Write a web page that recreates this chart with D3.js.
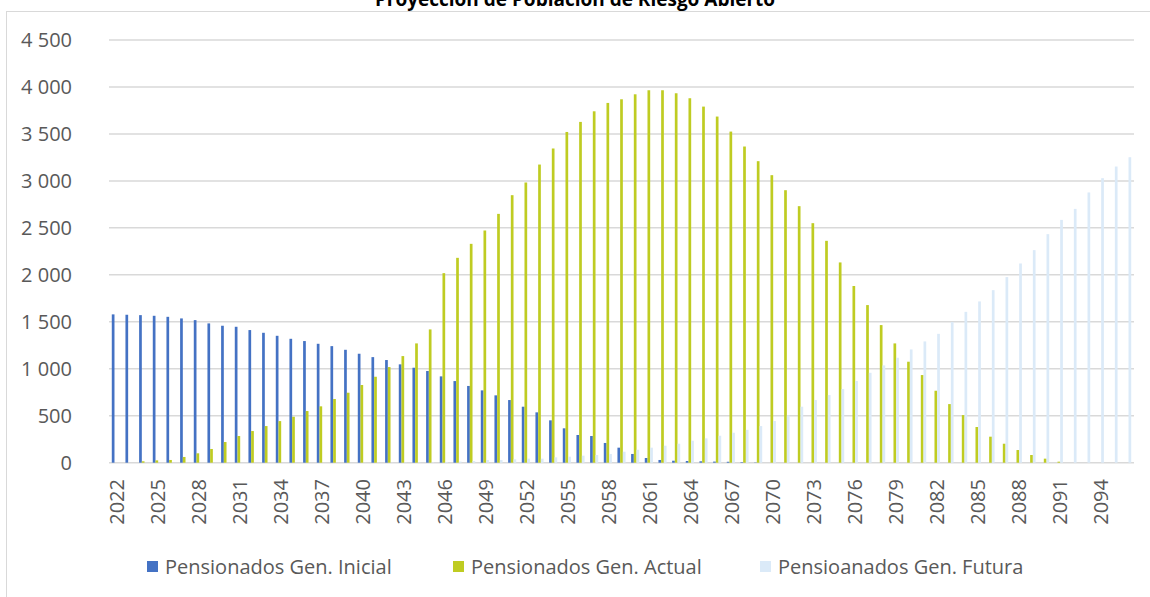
<!DOCTYPE html>
<head>
	<meta charset="utf-8">
	<title>Proyección de Población de Riesgo Abierto</title>
	<style>
	body { margin: 0; background: #fff; }
	.grid line { stroke: #d9d9d9; stroke-width: 1.5; }
	.tick-label { font: 20px "Open Sans", sans-serif; fill: #595959; }
	.legend-label { font: 20px "Open Sans", sans-serif; fill: #595959; }
	.title { font: bold 19px "Open Sans", sans-serif; fill: #000; }
	</style>
</head>
<body>
<script src="https://d3js.org/d3.v7.min.js"></script>
<script>

var years = [2022, 2023, 2024, 2025, 2026, 2027, 2028, 2029, 2030, 2031, 2032, 2033, 2034, 2035, 2036,
	2037, 2038, 2039, 2040, 2041, 2042, 2043, 2044, 2045, 2046, 2047, 2048, 2049, 2050, 2051,
	2052, 2053, 2054, 2055, 2056, 2057, 2058, 2059, 2060, 2061, 2062, 2063, 2064, 2065, 2066,
	2067, 2068, 2069, 2070, 2071, 2072, 2073, 2074, 2075, 2076, 2077, 2078, 2079, 2080, 2081,
	2082, 2083, 2084, 2085, 2086, 2087, 2088, 2089, 2090, 2091, 2092, 2093, 2094, 2095, 2096];

var inicial = [1579, 1575, 1571, 1564, 1553, 1536, 1518, 1483, 1458, 1447, 1412, 1383, 1351, 1319, 1295,
	1266, 1241, 1202, 1160, 1124, 1093, 1047, 1011, 976, 919, 869, 817, 770, 717, 667,
	596, 536, 451, 366, 295, 284, 210, 160, 93, 50, 29, 21, 18, 15, 12,
	10, 6, 3, 0, 0, 0, 0, 0, 0, 0, 0, 0, 0, 0, 0,
	0, 0, 0, 0, 0, 0, 0, 0, 0, 0, 0, 0, 0, 0, 0];

var actual = [0, 0, 15, 25, 29, 61, 100, 146, 220, 284, 337, 390, 443, 489, 550,
	600, 678, 745, 827, 915, 1018, 1135, 1270, 1419, 2018, 2181, 2330, 2472, 2649, 2848,
	2983, 3174, 3345, 3521, 3628, 3741, 3830, 3869, 3922, 3965, 3965, 3933, 3880, 3791, 3685,
	3525, 3366, 3210, 3061, 2901, 2731, 2550, 2362, 2132, 1881, 1678, 1465, 1270, 1075, 933,
	766, 624, 507, 380, 277, 202, 135, 82, 43, 11, 0, 0, 0, 0, 0];

var futura = [0, 0, 0, 0, 0, 0, 0, 0, 0, 0, 0, 0, 0, 0, 0,
	0, 0, 0, 1, 2, 2, 3, 4, 5, 8, 12, 18, 29, 29, 36,
	43, 43, 57, 64, 75, 82, 93, 117, 138, 160, 181, 202, 234, 259, 287,
	319, 350, 390, 444, 504, 596, 667, 720, 784, 870, 957, 1036, 1117, 1206, 1291,
	1372, 1497, 1606, 1717, 1837, 1976, 2121, 2263, 2433, 2585, 2702, 2877, 3029, 3153, 3252];

var seriesNames = ["Pensionados Gen. Inicial", "Pensionados Gen. Actual", "Pensioanados Gen. Futura"];
var seriesColors = ["#4472c4", "#bfcc22", "#dbeaf8"];
var yTicks = [0, 500, 1000, 1500, 2000, 2500, 3000, 3500, 4000, 4500];

var width = 1150, height = 597;
var plotLeft = 109, plotRight = 1134, plotTop = 40, plotBottom = 462.7;

var series = [inicial, actual, futura];
var rows = years.map(function(yr, i) {
	return { year: yr, values: series.map(function(s) { return s[i]; }) };
});

var svg = d3.select("body").append("svg")
	.attr("width", width)
	.attr("height", height);

// chart area border (only left and top fall inside the picture)
svg.append("rect")
	.attr("x", 6.5).attr("y", 11.5)
	.attr("width", 1200).attr("height", 700)
	.attr("fill", "none")
	.attr("stroke", "#d9d9d9")
	.attr("stroke-width", 1);

svg.append("text")
	.attr("class", "title")
	.attr("x", 575)
	.attr("y", 6)
	.attr("text-anchor", "middle")
	.text("Proyección de Población de Riesgo Abierto");

var x = d3.scaleBand()
	.domain(years)
	.range([plotLeft, plotRight])
	.paddingInner(0.407)
	.paddingOuter(0.2035);

var xs = d3.scaleBand()
	.domain([0, 1, 2])
	.range([0, x.bandwidth()]);

var y = d3.scaleLinear()
	.domain([0, 4500])
	.range([plotBottom, plotTop]);

// gridlines
svg.append("g")
	.attr("class", "grid")
	.selectAll("line")
	.data(yTicks)
	.enter().append("line")
	.attr("x1", plotLeft)
	.attr("x2", plotRight)
	.attr("y1", function(d) { return y(d); })
	.attr("y2", function(d) { return y(d); });

// y labels
svg.append("g")
	.selectAll("text")
	.data(yTicks)
	.enter().append("text")
	.attr("class", "tick-label")
	.attr("x", 72)
	.attr("y", function(d) { return y(d); })
	.attr("dy", "0.35em")
	.attr("text-anchor", "end")
	.text(function(d) { return d3.format(",")(d).replace(",", " "); });

// bars
var group = svg.append("g")
	.selectAll("g")
	.data(rows)
	.enter().append("g")
	.attr("transform", function(d) { return "translate(" + x(d.year) + ",0)"; });

group.selectAll("rect")
	.data(function(d) { return d.values; })
	.enter().append("rect")
	.attr("x", function(d, i) { return xs(i); })
	.attr("width", xs.bandwidth())
	.attr("y", function(d) { return y(d); })
	.attr("height", function(d) { return plotBottom - y(d); })
	.attr("fill", function(d, i) { return seriesColors[i]; });

// x labels, every third year
svg.append("g")
	.selectAll("text")
	.data(years.filter(function(d, i) { return i % 3 == 0; }))
	.enter().append("text")
	.attr("class", "tick-label")
	.attr("transform", function(d) {
		return "translate(" + (x(d) + x.bandwidth() / 2 + 1) + ",479) rotate(-90)";
	})
	.attr("dy", "0.35em")
	.attr("text-anchor", "end")
	.text(function(d) { return d; });

// legend
var legendX = [147, 453, 760];
var legend = svg.append("g")
	.selectAll("g")
	.data(seriesNames)
	.enter().append("g")
	.attr("transform", function(d, i) { return "translate(" + legendX[i] + ",561)"; });

legend.append("rect")
	.attr("width", 11)
	.attr("height", 11)
	.attr("fill", function(d, i) { return seriesColors[i]; });

legend.append("text")
	.attr("class", "legend-label")
	.attr("x", 18)
	.attr("y", 6)
	.attr("dy", "0.35em")
	.text(function(d) { return d; });

</script>
